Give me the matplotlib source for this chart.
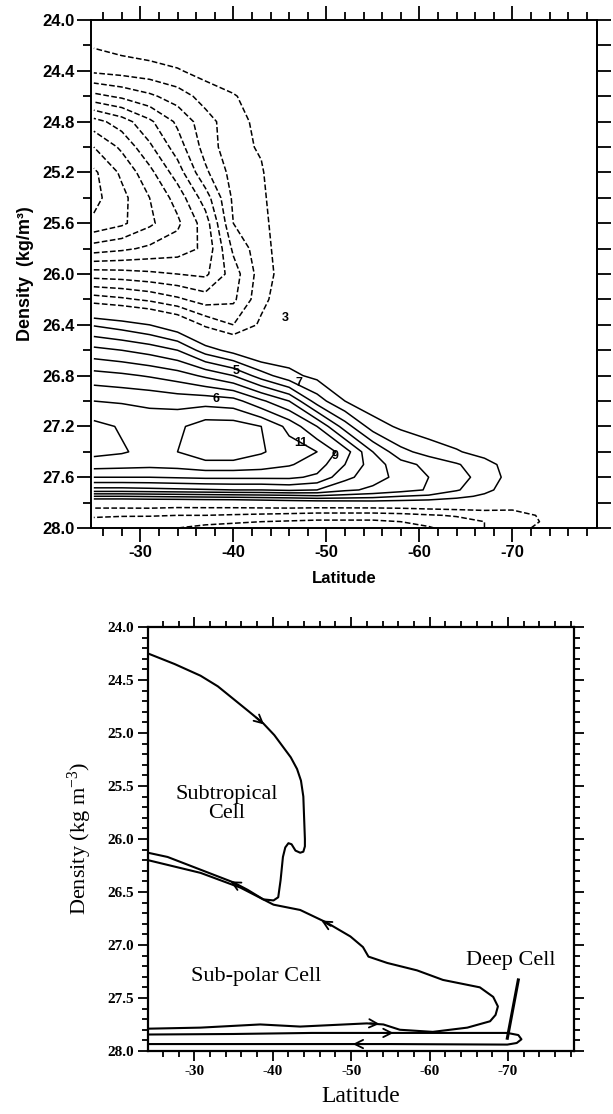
import numpy as np
import matplotlib.pyplot as plt
from matplotlib.ticker import MultipleLocator, FormatStrFormatter

plt.rcParams['mathtext.default'] = 'regular'

# ---------------- top panel: overturning streamfunction (Sv) on density
lat = [-25, -28, -31, -34, -37, -40, -43, -46, -49, -52, -55, -58, -61, -64, -67, -70, -75, -80]
dens = [24.0, 24.2, 24.4, 24.6, 24.8, 25.0, 25.2, 25.4, 25.6, 25.8, 26.0, 26.2, 26.4,
        26.6, 26.8, 27.0, 27.2, 27.4, 27.5, 27.6, 27.7, 27.75, 27.8, 27.85, 27.9, 27.95, 28.0]
psi = [
    [0, 0, 0, 0, 0, 0, 0, 0, 0, 0, 0, 0, 0, 0, 0, 0, 0, 0],
    [-0.9, -0.6, -0.4, -0.2, 0, 0, 0, 0, 0, 0, 0, 0, 0, 0, 0, 0, 0, 0],
    [-1.8, -1.6, -1.4, -1.1, -0.6, -0.2, 0, 0, 0, 0, 0, 0, 0, 0, 0, 0, 0, 0],
    [-4.3, -3.8, -3.2, -2.5, -1.6, -1.1, -0.4, 0, 0, 0, 0, 0, 0, 0, 0, 0, 0, 0],
    [-7.4, -6.5, -5.2, -3.8, -2.4, -1.4, -0.7, 0, 0, 0, 0, 0, 0, 0, 0, 0, 0, 0],
    [-9.0, -7.8, -6.2, -4.5, -2.6, -1.3, -0.9, 0, 0, 0, 0, 0, 0, 0, 0, 0, 0, 0],
    [-10.2, -8.8, -7.3, -5.5, -3.2, -1.6, -1.1, 0, 0, 0, 0, 0, 0, 0, 0, 0, 0, 0],
    [-10.3, -9.3, -8.0, -6.6, -4.5, -1.8, -1.2, -0.1, 0, 0, 0, 0, 0, 0, 0, 0, 0, 0],
    [-9.8, -9.2, -8.2, -7.2, -5.5, -2.0, -1.3, -0.2, 0, 0, 0, 0, 0, 0, 0, 0, 0, 0],
    [-7.5, -7.2, -6.8, -6.5, -5.8, -2.8, -1.4, -0.3, 0, 0, 0, 0, 0, 0, 0, 0, 0, 0],
    [-4.5, -4.6, -4.8, -5.0, -5.2, -3.5, -1.5, -0.4, 0, 0, 0, 0, 0, 0, 0, 0, 0, 0],
    [-1.5, -1.8, -2.2, -2.8, -3.5, -3.2, -1.3, -0.2, 0, 0, 0, 0, 0, 0, 0, 0, 0, 0],
    [1.9, 1.5, 1.0, 0.2, -1.2, -2.0, -0.8, 0, 0, 0, 0, 0, 0, 0, 0, 0, 0, 0],
    [4.3, 4.0, 3.6, 3.0, 1.5, 0.6, -0.3, 0.3, 0, 0, 0, 0, 0, 0, 0, 0, 0, 0],
    [6.4, 6.2, 5.9, 5.5, 4.8, 4.0, 2.5, 1.3, 0.7, 0, 0, 0, 0, 0, 0, 0, 0, 0],
    [8.0, 7.9, 7.8, 7.6, 7.6, 7.4, 6.2, 5.0, 2.5, 1.0, 0.3, 0, 0, 0, 0, 0, 0, 0],
    [9.3, 8.9, 8.5, 8.8, 9.5, 9.5, 9.0, 7.7, 6.0, 3.5, 1.5, 0.8, 0.4, 0.2, 0, 0, 0, 0],
    [9.3, 9.1, 8.7, 9.0, 9.6, 9.6, 9.1, 8.5, 8.0, 6.5, 4.0, 2.3, 1.6, 1.1, 0.6, 0.1, 0, 0],
    [8.5, 8.4, 8.3, 8.4, 8.7, 8.7, 8.5, 8.1, 7.5, 6.0, 4.5, 3.4, 2.7, 2.1, 1.4, 0.5, 0, 0],
    [7.0, 7.0, 7.0, 7.1, 7.2, 7.2, 7.2, 7.2, 6.8, 5.3, 4.4, 3.7, 3.0, 2.4, 1.6, 0.6, 0, 0],
    [4.6, 4.6, 4.7, 4.8, 4.9, 5.0, 5.0, 5.2, 5.0, 4.2, 3.8, 3.4, 2.9, 2.1, 1.3, 0.4, 0, 0],
    [2.0, 2.0, 2.1, 2.2, 2.3, 2.4, 2.5, 2.6, 2.8, 2.6, 2.4, 2.0, 1.8, 1.3, 0.8, 0.2, 0, 0],
    [-0.4, -0.4, -0.3, -0.3, -0.2, -0.2, 0.0, 0.2, 0.3, 0.4, 0.5, 0.5, 0.4, 0.3, 0.2, 0, 0, 0],
    [-1.1, -1.1, -1.1, -1.2, -1.2, -1.2, -1.2, -1.2, -1.3, -1.3, -1.3, -1.2, -1.0, -0.9, -0.8, -0.9, -0.2, 0],
    [-1.8, -1.9, -1.9, -2.0, -2.0, -2.1, -2.2, -2.3, -2.4, -2.4, -2.4, -2.3, -2.1, -1.9, -1.7, -1.5, -0.5, 0],
    [-2.4, -2.5, -2.6, -2.7, -2.8, -2.9, -3.0, -3.1, -3.2, -3.2, -3.2, -3.0, -2.7, -2.4, -2.0, -1.7, -0.5, 0],
    [-2.7, -2.8, -2.9, -3.0, -3.2, -3.3, -3.5, -3.7, -3.8, -3.8, -3.8, -3.5, -3.1, -2.6, -2.0, -1.4, -0.4, 0],
]
levels = [v for v in range(-12, 14) if v != 0]

# contour labels seen on the map
clab_text = ['5', '6', '7', '11', '9', '3']
clab_lat = [-40.3, -38.1, -47.1, -47.3, -50.9, -45.6]
clab_rho = [26.76, 26.98, 26.86, 27.33, 27.43, 26.35]

# ---------------- bottom panel: schematic cells
sub_lat = [-24.1, -27.5, -30.8, -33.0, -35.0, -37.0, -38.8, -40.2, -41.3, -42.3, -43.1, -43.6,
           -43.9, -44.0, -44.1, -44.1, -43.9, -43.5, -42.9, -42.4, -42.0, -41.6, -41.3, -41.0,
           -40.7, -40.1, -38.8, -36.8, -35.0, -30.8, -26.6, -24.1]
sub_rho = [24.25, 24.35, 24.46, 24.56, 24.68, 24.80, 24.91, 25.02, 25.13, 25.23, 25.34, 25.45,
           25.60, 25.80, 26.00, 26.07, 26.12, 26.13, 26.11, 26.05, 26.04, 26.08, 26.17, 26.39,
           26.55, 26.58, 26.57, 26.48, 26.41, 26.29, 26.17, 26.13]

polar_lat = [-24.1, -30.8, -35.9, -40.1, -43.5, -46.9, -49.9, -51.5, -52.2, -54.6, -58.4,
             -61.7, -66.4, -68.1, -68.7, -68.4, -67.7, -64.8, -60.4, -56.2, -54.1, -52.0,
             -43.5, -38.4, -30.8, -24.1]
polar_rho = [26.20, 26.32, 26.46, 26.62, 26.67, 26.79, 26.92, 27.02, 27.11, 27.17, 27.24,
             27.33, 27.40, 27.49, 27.58, 27.66, 27.72, 27.78, 27.82, 27.80, 27.75, 27.74,
             27.77, 27.75, 27.78, 27.79]

deep_lat = [-24.1, -35.0, -45.0, -55.0, -69.9, -71.3, -71.7, -71.1, -69.9, -55.0, -40.0, -24.1]
deep_rho = [27.845, 27.84, 27.83, 27.83, 27.83, 27.85, 27.89, 27.925, 27.94, 27.935, 27.935, 27.935]

# arrow heads: (tail, head)
arr_tail = [(-37.9, 24.855), (-35.6, 26.44), (-47.4, 26.82), (-52.4, 27.74), (-54.2, 27.83), (-51.4, 27.935)]
arr_head = [(-38.9, 24.92), (-34.6, 26.40), (-46.2, 26.77), (-53.6, 27.745), (-55.4, 27.83), (-50.2, 27.935)]

pointer_lat = [-71.3, -69.9]
pointer_rho = [27.33, 27.88]

# ================= figure
fig = plt.figure(figsize=(6.13, 11.14), dpi=100)

sans = 'Liberation Sans'
serif = 'Liberation Serif'

# ---- top
ax1 = fig.add_axes([0.1485, 0.526, 0.8254, 0.456])
styles = ['--' if v < 0 else '-' for v in levels]
ax1.contour(lat, dens, psi, levels=levels, colors='k', linewidths=1.1, linestyles=styles)
for t, x, y in zip(clab_text, clab_lat, clab_rho):
    ax1.text(x, y, t, fontsize=9, fontweight='bold', family=sans, ha='center', va='center')

ax1.set_xlim(-24.7, -79.1)
ax1.set_ylim(28.0, 24.0)
ax1.xaxis.set_major_locator(MultipleLocator(10))
ax1.xaxis.set_minor_locator(MultipleLocator(2))
ax1.yaxis.set_major_locator(MultipleLocator(0.4))
ax1.yaxis.set_minor_locator(MultipleLocator(0.2))
ax1.yaxis.set_major_formatter(FormatStrFormatter('%.1f'))
ax1.xaxis.set_major_formatter(FormatStrFormatter('%d'))
ax1.tick_params(which='both', direction='out', top=True, right=False, width=1.3)
ax1.tick_params(which='major', length=10, pad=2)
ax1.tick_params(which='minor', length=6)
for lb in ax1.get_xticklabels() + ax1.get_yticklabels():
    lb.set_fontfamily(sans)
    lb.set_fontweight('bold')
    lb.set_fontsize(12)
sec = ax1.secondary_yaxis('right')
sec.yaxis.set_major_locator(MultipleLocator(0.2))
sec.tick_params(direction='out', length=10, width=1.3, labelright=False)
sec.spines['right'].set_linewidth(1.4)
for s in ax1.spines.values():
    s.set_linewidth(1.4)
ax1.set_xlabel('Latitude', fontsize=12, fontweight='bold', family=sans, labelpad=8)
ax1.set_ylabel('Density  (kg/m³)', fontsize=13, fontweight='bold', family=sans, labelpad=6)

# ---- bottom
ax2 = fig.add_axes([0.2414, 0.0566, 0.695, 0.3806])
ax2.plot(sub_lat, sub_rho, color='k', lw=1.5)
ax2.plot(polar_lat, polar_rho, color='k', lw=1.5)
ax2.plot(deep_lat, deep_rho, color='k', lw=1.5)
ax2.plot(pointer_lat, pointer_rho, color='k', lw=2.2)
for tl, hd in zip(arr_tail, arr_head):
    ax2.annotate('', xy=hd, xytext=tl,
                 arrowprops=dict(arrowstyle='->,head_length=0.6,head_width=0.3',
                                 lw=1.3, color='k', shrinkA=0, shrinkB=0))
ax2.text(-34.1, 25.67, 'Subtropical\nCell', fontsize=16, family=serif,
         ha='center', va='center', linespacing=1.0)
ax2.text(-37.9, 27.3, 'Sub-polar Cell', fontsize=16, family=serif, ha='center', va='center')
ax2.text(-70.3, 27.15, 'Deep Cell', fontsize=16, family=serif, ha='center', va='center')

ax2.set_xlim(-24.1, -78.4)
ax2.set_ylim(28.0, 24.0)
ax2.xaxis.set_major_locator(MultipleLocator(10))
ax2.xaxis.set_minor_locator(MultipleLocator(2))
ax2.yaxis.set_major_locator(MultipleLocator(0.5))
ax2.yaxis.set_minor_locator(MultipleLocator(0.1))
ax2.yaxis.set_major_formatter(FormatStrFormatter('%.1f'))
ax2.xaxis.set_major_formatter(FormatStrFormatter('%d'))
ax2.tick_params(which='both', direction='out', top=True, right=True, width=1.3)
ax2.tick_params(which='major', length=7, pad=3)
ax2.tick_params(which='minor', length=4)
for lb in ax2.get_xticklabels() + ax2.get_yticklabels():
    lb.set_fontfamily(serif)
    lb.set_fontweight('bold')
    lb.set_fontsize(11)
for s in ax2.spines.values():
    s.set_linewidth(1.6)
ax2.set_xlabel('Latitude', fontsize=17, family=serif, labelpad=6)
ax2.set_ylabel('Density (kg m$^{-3}$)', fontsize=16, family=serif, labelpad=10)

fig.savefig('out.png', dpi=100)
